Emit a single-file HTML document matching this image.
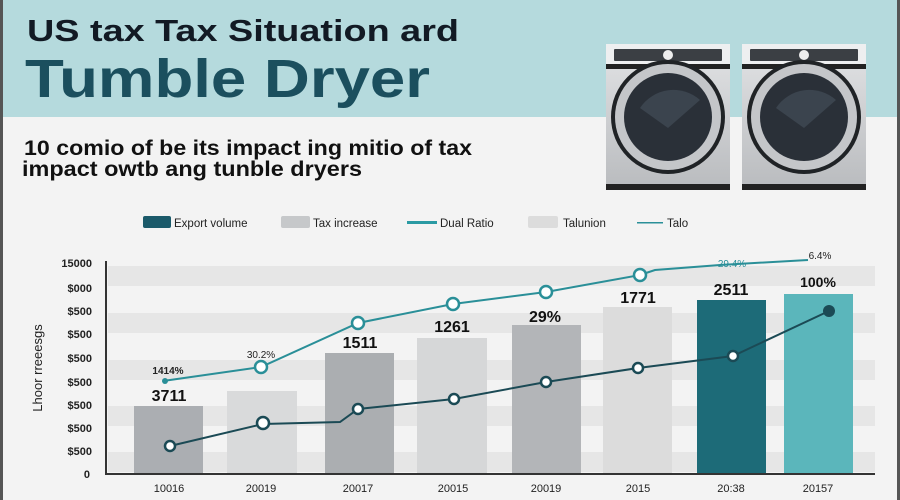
<!DOCTYPE html>
<html><head><meta charset="utf-8"><style>
html,body{margin:0;padding:0;background:#f3f3f3}
svg{display:block}
text{font-family:"Liberation Sans",sans-serif}
</style></head><body>
<svg width="900" height="500" viewBox="0 0 900 500">
<rect width="900" height="500" fill="#f3f3f3"/>
<rect width="900" height="117" fill="#b5dadd"/>
<rect x="0" y="0" width="3" height="500" fill="#555"/>
<rect x="897" y="0" width="3" height="500" fill="#555"/>
<text x="27" y="41" font-size="31" font-weight="bold" fill="#121a24" textLength="432" lengthAdjust="spacingAndGlyphs">US tax Tax Situation ard</text>
<text x="25" y="97" font-size="54" font-weight="bold" fill="#1b4f5e" textLength="405" lengthAdjust="spacingAndGlyphs">Tumble Dryer</text>
<text x="24" y="155" font-size="21" font-weight="bold" fill="#111" textLength="448" lengthAdjust="spacingAndGlyphs">10 comio of be its impact ing mitio of tax</text>
<text x="22" y="176" font-size="21" font-weight="bold" fill="#111" textLength="340" lengthAdjust="spacingAndGlyphs">impact owtb ang tunble dryers</text>
<!-- dryers -->
<defs><linearGradient id="g" x1="0" y1="0" x2="0" y2="1"><stop offset="0" stop-color="#e2e3e5"/><stop offset="1" stop-color="#b9bbbe"/></linearGradient></defs>
<g id="d1">
<rect x="606" y="44" width="124" height="146" rx="3" fill="url(#g)"/>
<rect x="606" y="44" width="124" height="20" fill="#eeeff0"/>
<rect x="614" y="49" width="108" height="12" rx="1" fill="#3b3f44"/>
<circle cx="668" cy="55" r="5" fill="#eee"/>
<rect x="606" y="64" width="124" height="5" fill="#222"/>
<rect x="606" y="184" width="124" height="6" fill="#222"/>
<circle cx="668" cy="117" r="57" fill="#202326"/>
<circle cx="668" cy="117" r="53" fill="#c4c6c9"/>
<circle cx="668" cy="117" r="44" fill="#2a3038"/>
<path d="M640 108 L668 128 L700 100 A40 40 0 0 0 640 108Z" fill="#3b444e"/>
</g>
<use href="#d1" x="136"/>
<!-- legend -->
<rect x="143" y="216" width="28" height="12" rx="2" fill="#1b5a6a"/>
<text x="174" y="227" font-size="11.5" fill="#222">Export volume</text>
<rect x="281" y="216" width="29" height="12" rx="2" fill="#c6c8ca"/>
<text x="313" y="227" font-size="11.5" fill="#222">Tax increase</text>
<rect x="407" y="221" width="30" height="3" fill="#2a9aa3"/>
<text x="440" y="227" font-size="11.5" fill="#222">Dual Ratio</text>
<rect x="528" y="216" width="30" height="12" rx="2" fill="#dcdcdc"/>
<text x="563" y="227" font-size="11.5" fill="#222">Talunion</text>
<rect x="637" y="222" width="26" height="1.5" fill="#2a8f98"/>
<text x="667" y="227" font-size="11.5" fill="#222">Talo</text>
<!-- plot bands -->
<g fill="#e6e6e6">
<rect x="108" y="266" width="767" height="20"/>
<rect x="108" y="313" width="767" height="20"/>
<rect x="108" y="360" width="767" height="20"/>
<rect x="108" y="406" width="767" height="20"/>
<rect x="108" y="452" width="767" height="20"/>
</g>
<!-- y labels -->
<g font-size="11" font-weight="bold" fill="#222" text-anchor="end">
<text x="92" y="267">15000</text><text x="92" y="292">$000</text><text x="92" y="315">$500</text>
<text x="92" y="338">$500</text><text x="92" y="362">$500</text><text x="92" y="386">$500</text>
<text x="92" y="409">$500</text><text x="92" y="432">$500</text><text x="92" y="455">$500</text>
<text x="90" y="478">0</text>
</g>
<text transform="translate(42,368) rotate(-90)" font-size="13" fill="#222" text-anchor="middle">Lhoor rreeesgs</text>
<!-- bars -->
<rect x="134" y="406" width="69" height="68" fill="#abaeb2"/>
<rect x="227" y="391" width="70" height="83" fill="#d9dadb"/>
<rect x="325" y="353" width="69" height="121" fill="#abaeb1"/>
<rect x="417" y="338" width="70" height="136" fill="#d6d7d8"/>
<rect x="512" y="325" width="69" height="149" fill="#b3b5b8"/>
<rect x="603" y="307" width="69" height="167" fill="#dcdcdc"/>
<rect x="697" y="300" width="69" height="174" fill="#1d6b78"/>
<rect x="784" y="294" width="69" height="180" fill="#5bb6bb"/>
<!-- axes -->
<rect x="105" y="261" width="2" height="214" fill="#333"/>
<rect x="105" y="473" width="770" height="2" fill="#333"/>
<!-- bar labels -->
<g font-size="16" font-weight="bold" fill="#111" text-anchor="middle">
<text x="169" y="401">3711</text><text x="360" y="348">1511</text><text x="452" y="332">1261</text>
<text x="545" y="322">29%</text><text x="638" y="303">1771</text><text x="731" y="295">2511</text>
<text x="818" y="287" font-size="14">100%</text>
</g>
<!-- upper line -->
<polyline points="163,381 261,367 358,323 453,304 546,292 640,275 655,270 720,265 808,260" fill="none" stroke="#2a8f98" stroke-width="2"/>
<g fill="#fff" stroke="#2a8f98" stroke-width="2.5">
<circle cx="261" cy="367" r="6"/><circle cx="358" cy="323" r="6"/><circle cx="453" cy="304" r="6"/>
<circle cx="546" cy="292" r="6"/><circle cx="640" cy="275" r="6"/>
</g>
<circle cx="165" cy="381" r="3" fill="#2a8f98"/>
<g font-size="10" fill="#222" text-anchor="middle">
<text x="168" y="374" font-weight="bold">1414%</text><text x="261" y="358">30.2%</text>
<text x="732" y="267" fill="#2a8f98">29.4%</text><text x="820" y="259">6.4%</text>
</g>
<!-- lower line -->
<polyline points="170,446 263,424 340,422 358,409 454,399 546,382 638,368 733,356 829,311" fill="none" stroke="#1b4a55" stroke-width="2"/>
<g fill="#fff" stroke="#1b4a55" stroke-width="2.5">
<circle cx="170" cy="446" r="5"/><circle cx="263" cy="423" r="6"/><circle cx="358" cy="409" r="5"/>
<circle cx="454" cy="399" r="5"/><circle cx="546" cy="382" r="5"/><circle cx="638" cy="368" r="5"/>
<circle cx="733" cy="356" r="5"/>
</g>
<circle cx="829" cy="311" r="6" fill="#1b4a55"/>
<!-- x labels -->
<g font-size="11" fill="#222" text-anchor="middle">
<text x="169" y="492">10016</text><text x="261" y="492">20019</text><text x="358" y="492">20017</text>
<text x="453" y="492">20015</text><text x="546" y="492">20019</text><text x="638" y="492">2015</text>
<text x="731" y="492">20:38</text><text x="818" y="492">20157</text>
</g>
</svg>
</body></html>
